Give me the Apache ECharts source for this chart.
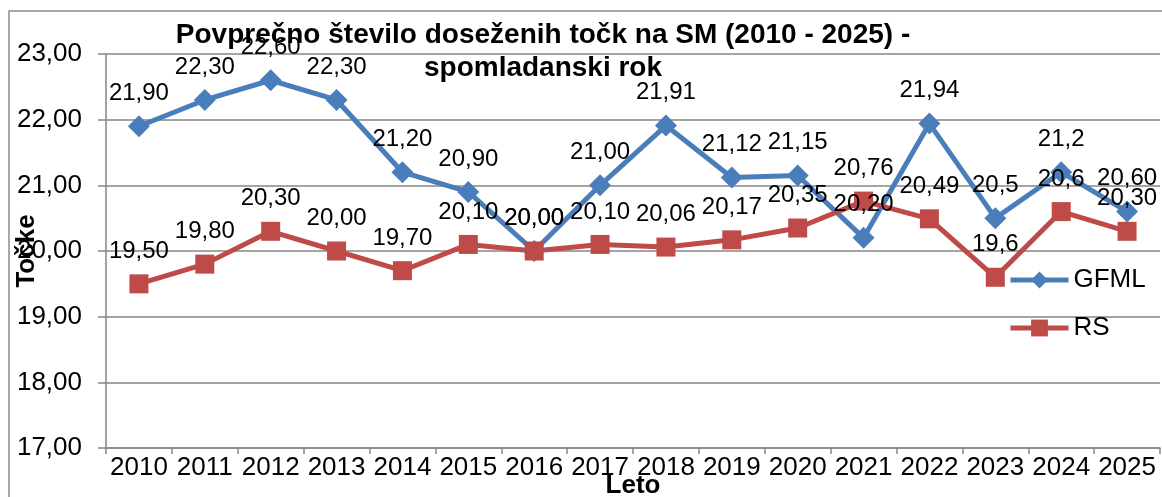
<!DOCTYPE html>
<html>
<head>
<meta charset="utf-8">
<script src="https://cdn.jsdelivr.net/npm/echarts@6/dist/echarts.min.js"></script>
<style>
html,body{margin:0;padding:0;background:#fff;}
#c{width:1162px;height:497px;}
</style>
</head>
<body>
<div id="c"></div>
<script>
const years = ['2010','2011','2012','2013','2014','2015','2016','2017','2018','2019','2020','2021','2022','2023','2024','2025'];
const gfml = [21.90,22.30,22.60,22.30,21.20,20.90,20.00,21.00,21.91,21.12,21.15,20.20,21.94,20.5,21.2,20.60];
const rs = [19.50,19.80,20.30,20.00,19.70,20.10,20.00,20.10,20.06,20.17,20.35,20.76,20.49,19.6,20.6,20.30];
const gfmlLabels = ['21,90','22,30','22,60','22,30','21,20','20,90','20,00','21,00','21,91','21,12','21,15','20,20','21,94','20,5','21,2','20,60'];
const rsLabels = ['19,50','19,80','20,30','20,00','19,70','20,10','20,00','20,10','20,06','20,17','20,35','20,76','20,49','19,6','20,6','20,30'];

const font = 'Liberation Sans, Arial, sans-serif';
const chart = echarts.init(document.getElementById('c'));
const blue = '#4A7EBB', red = '#BE4B48';

function mk(vals, labels){
  return vals.map((v,i)=>({value:v, label:{formatter:labels[i]}}));
}

chart.setOption({
  animation:false,
  textStyle:{fontFamily:font},
  graphic:[{type:'rect', shape:{x:9,y:11,width:1170,height:500}, style:{fill:'none', stroke:'#8c8c8c', lineWidth:1.5}, z:-1}],
  title:{
    text:'Povprečno število doseženih točk na SM (2010 - 2025) -\nspomladanski rok',
    left:538, top:14, textAlign:'center',
    textStyle:{fontFamily:font, fontWeight:'bold', fontSize:28, color:'#000', lineHeight:33}
  },
  legend:{
    orient:'vertical', left:1003, top:262, itemGap:22, itemWidth:58, itemHeight:21,
    textStyle:{fontFamily:font, fontSize:26, color:'#000'},
    lineStyle:{width:5},
    data:['GFML','RS']
  },
  grid:{left:106, right:2, top:54, bottom:49, containLabel:false, outerBoundsMode:'none'},
  xAxis:{
    type:'category', data:years, boundaryGap:true,
    name:'Leto', nameLocation:'middle', nameGap:25, nameMoveOverlap:false,
    nameTextStyle:{fontFamily:font, fontWeight:'bold', fontSize:26, color:'#000'},
    axisLine:{lineStyle:{color:'#868686', width:1.5}},
    axisTick:{show:true, alignWithLabel:false, length:6, lineStyle:{color:'#868686', width:1.5}},
    axisLabel:{fontFamily:font, fontSize:26, color:'#000', margin:7, interval:0}
  },
  yAxis:{
    type:'value', min:17, max:23, interval:1,
    name:'Točke', nameLocation:'middle', nameGap:66, nameRotate:90, nameMoveOverlap:false,
    nameTextStyle:{fontFamily:font, fontWeight:'bold', fontSize:26, color:'#000'},
    axisLine:{show:true, lineStyle:{color:'#868686', width:1.5}},
    axisTick:{show:true, length:8, lineStyle:{color:'#868686', width:1.5}},
    splitLine:{lineStyle:{color:'#868686', width:1.5}},
    axisLabel:{fontFamily:font, fontSize:26, color:'#000', margin:24,
      formatter:v=>v.toFixed(2).replace('.',',')}
  },
  series:[
    {name:'GFML', type:'line', data:mk(gfml,gfmlLabels),
     symbol:'diamond', symbolSize:22,
     lineStyle:{color:blue, width:5}, itemStyle:{color:blue},
     label:{show:true, position:'top', distance:10, fontFamily:font, fontSize:24, color:'#000'}},
    {name:'RS', type:'line', data:mk(rs,rsLabels),
     symbol:'rect', symbolSize:19,
     lineStyle:{color:red, width:5}, itemStyle:{color:red},
     label:{show:true, position:'top', distance:11, fontFamily:font, fontSize:24, color:'#000'}}
  ]
});
</script>
</body>
</html>
